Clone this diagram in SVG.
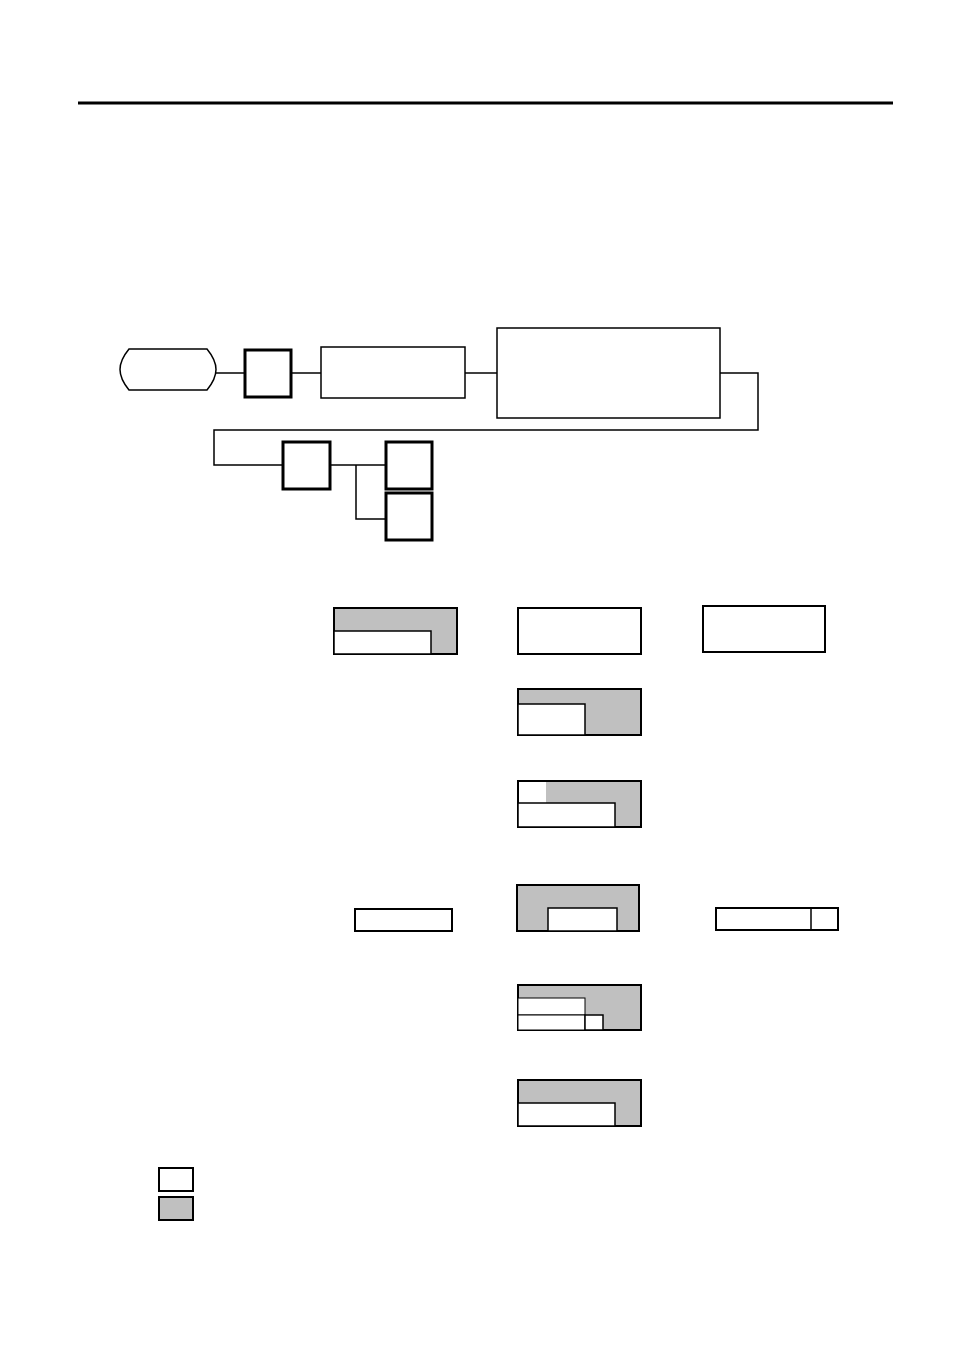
<svg xmlns="http://www.w3.org/2000/svg" width="954" height="1351" viewBox="0 0 954 1351">
<style>
.n{fill:#fff;stroke:#000;stroke-width:1.5}
.t{fill:#fff;stroke:#000;stroke-width:3}
.g{fill:#c0c0c0;stroke:#000;stroke-width:2}
.w{fill:#fff;stroke:#000;stroke-width:1.5}
.wn{fill:#fff;stroke:none}
.c{fill:none;stroke:#000;stroke-width:1.5}
</style>
<rect width="954" height="1351" fill="#fff"/>
<line x1="78" y1="103" x2="893" y2="103" stroke="#000" stroke-width="3"/>
<g id="connectors">
<line class="c" x1="216" y1="373" x2="245" y2="373"/>
<line class="c" x1="291" y1="373" x2="321" y2="373"/>
<line class="c" x1="465" y1="373" x2="497" y2="373"/>
<polyline class="c" points="720,373 758,373 758,430 214,430 214,465 283,465"/>
<line class="c" x1="330" y1="465" x2="386" y2="465"/>
<polyline class="c" points="356,465 356,519 386,519"/>
</g>
<g id="start"><path class="n" d="M129,349 L207,349 Q216,360 216,369.5 Q216,379 207,390 L129,390 Q120,379 120,369.5 Q120,360 129,349 Z"/></g>
<g id="box1"><rect class="t" x="245" y="350" width="46" height="47"/></g>
<g id="box2"><rect class="n" x="321" y="347" width="144" height="51"/></g>
<g id="box3"><rect class="n" x="497" y="328" width="223" height="90"/></g>
<g id="box4"><rect class="t" x="283" y="442" width="47" height="47"/></g>
<g id="box5"><rect class="t" x="386" y="442" width="46" height="47"/></g>
<g id="box6"><rect class="t" x="386" y="493" width="46" height="47"/></g>
<g id="boxA"><rect class="g" x="334" y="608" width="123" height="46"/><rect class="w" x="334" y="631" width="97" height="23"/></g>
<g id="boxB"><rect class="n" x="518" y="608" width="123" height="46" style="stroke-width:2"/></g>
<g id="boxC"><rect class="n" x="703" y="606" width="122" height="46" style="stroke-width:2"/></g>
<g id="boxD"><rect class="g" x="518" y="689" width="123" height="46"/><rect class="w" x="518" y="704" width="67" height="31"/></g>
<g id="boxE"><rect class="g" x="518" y="781" width="123" height="46"/><rect class="wn" x="519" y="782" width="27" height="21"/><rect class="w" x="518" y="803" width="97" height="24"/></g>
<g id="boxF"><rect class="n" x="355" y="909" width="97" height="22" style="stroke-width:2"/></g>
<g id="boxG"><rect class="g" x="517" y="885" width="122" height="46"/><rect class="w" x="548" y="908" width="69" height="23"/></g>
<g id="boxH"><rect class="n" x="716" y="908" width="122" height="22" style="stroke-width:2"/><line x1="811" y1="908" x2="811" y2="930" stroke="#000" stroke-width="1.5"/></g>
<g id="boxI"><rect class="g" x="518" y="985" width="123" height="45"/><rect class="w" x="518" y="998" width="67" height="17" style="stroke-width:1"/><rect class="w" x="518" y="1015" width="67" height="15" style="stroke-width:1"/><rect class="w" x="585" y="1015" width="18" height="15"/></g>
<g id="boxJ"><rect class="g" x="518" y="1080" width="123" height="46"/><rect class="w" x="518" y="1103" width="97" height="23"/></g>
<g id="legend"><rect class="n" x="159" y="1168" width="34" height="23" style="stroke-width:2"/><rect class="g" x="159" y="1197" width="34" height="23"/></g>
</svg>
